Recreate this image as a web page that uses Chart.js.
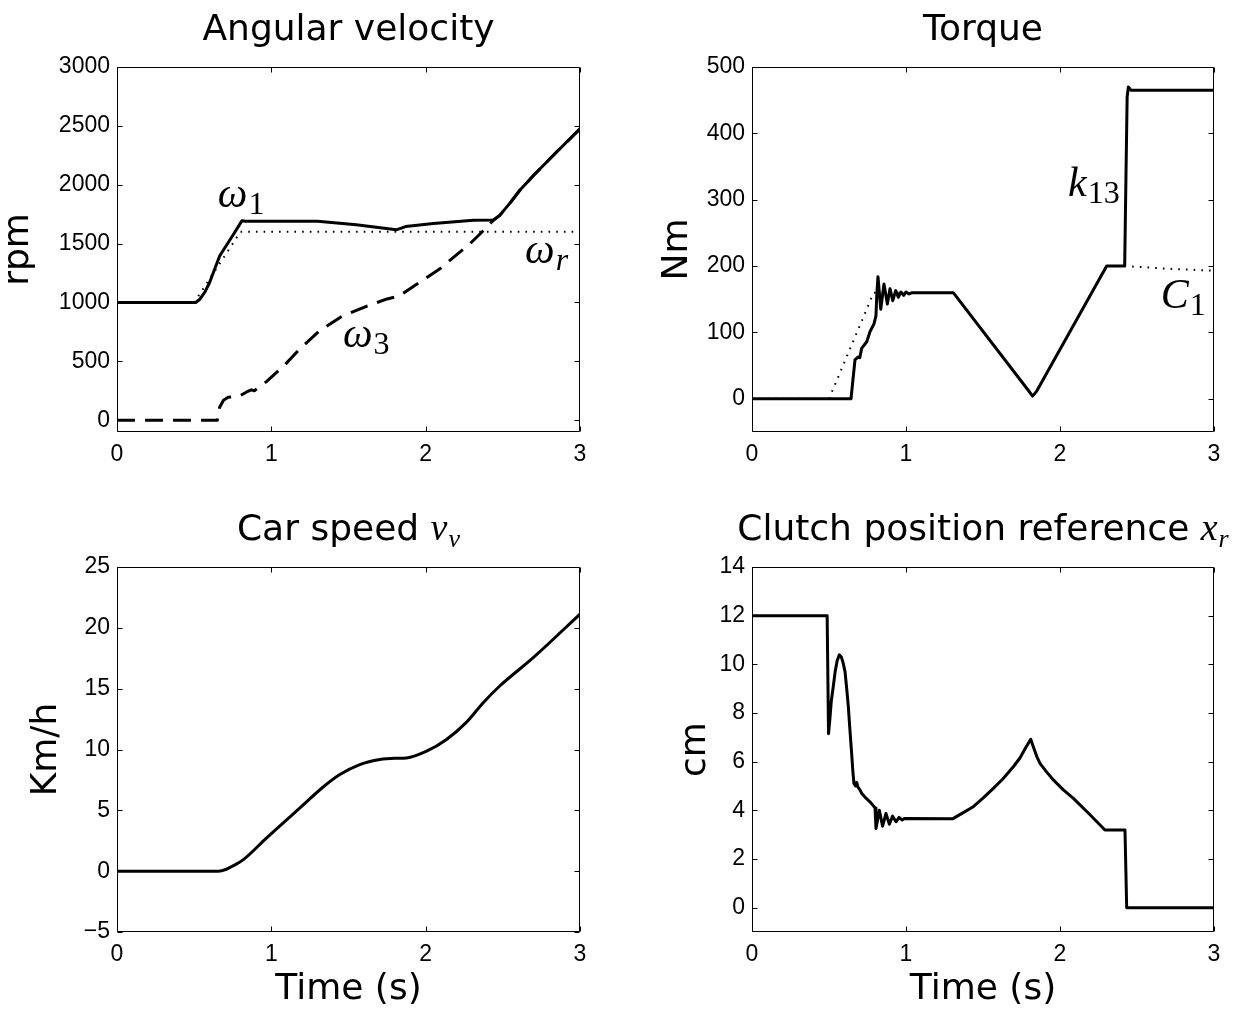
<!DOCTYPE html>
<html>
<head>
<meta charset="utf-8">
<script src="https://cdn.jsdelivr.net/npm/chart.js@4.4.1/dist/chart.umd.min.js"></script>
<style>
  html, body { margin: 0; padding: 0; background: #fff; }
  #wrap { position: relative; width: 1244px; height: 1020px; overflow: hidden; }
  canvas { position: absolute; }
</style>
</head>
<body>
<div id="wrap">
  <canvas id="cAng" width="622" height="500" style="left:0;top:0"></canvas>
  <canvas id="cTorque" width="622" height="500" style="left:622px;top:0"></canvas>
  <canvas id="cSpeed" width="622" height="520" style="left:0;top:500px"></canvas>
  <canvas id="cClutch" width="622" height="520" style="left:622px;top:500px"></canvas>
</div>
<script>
// ---- Angular velocity (rpm) ----
const angTimeW1 = [0, 0.51, 0.535, 0.57, 0.60, 0.635, 0.665, 0.70, 0.75, 0.81, 0.83, 1.0, 1.30, 1.55, 1.81, 1.87, 2.05, 2.31, 2.44, 2.48, 2.55, 2.61, 2.70, 2.85, 3.0];
const angW1 = [1000, 1000, 1025, 1090, 1170, 1290, 1395, 1467, 1569, 1695, 1690, 1690, 1690, 1660, 1617, 1645, 1670, 1698, 1700, 1740, 1850, 1953, 2080, 2280, 2475];
const angTimeWr = [0, 0.5, 0.8, 3.0];
const angWr = [1000, 1000, 1600, 1600];
const angTimeW3 = [0, 0.65, 0.665, 0.69, 0.72, 0.76, 0.80, 0.84, 0.87, 0.89, 0.93, 0.97, 1.08, 1.18, 1.31, 1.46, 1.62, 1.75, 1.83, 1.96, 2.09, 2.18, 2.28, 2.37, 2.44, 2.48, 2.55, 2.61, 2.70, 2.85, 3.0];
const angW3 = [0, 0, 110, 170, 195, 200, 210, 240, 258, 250, 290, 330, 460, 600, 757, 885, 970, 1030, 1056, 1170, 1284, 1383, 1490, 1605, 1700, 1740, 1850, 1953, 2080, 2280, 2475];
const angTicks = [0, 500, 1000, 1500, 2000, 2500, 3000];

// ---- Torque (Nm) ----
const torqTimeK = [0, 0.643, 0.656, 0.669, 0.69, 0.70, 0.712, 0.745, 0.766, 0.792, 0.805, 0.81, 0.818, 0.836, 0.857, 0.879, 0.896, 0.914, 0.933, 0.95, 0.967, 0.985, 1.0, 1.02, 1.04, 1.307, 1.79, 1.822, 1.85, 2.303, 2.42, 2.428, 2.436, 2.444, 2.46, 3.0];
const torqK = [0, 0, 30, 59, 63, 62, 76, 86, 101, 113, 125, 155, 184, 135, 173, 143, 166, 148, 163, 153, 161, 156, 161, 158, 160, 160, 14, 4, 12, 200, 200, 330, 455, 470, 465, 465];
const torqTimeC = [0, 0.5, 0.79, 1.307, 1.79, 1.822, 1.85, 2.303, 2.42, 2.7, 3.0];
const torqC = [0, 0, 160, 160, 14, 4, 12, 200, 200, 196, 193];
const torqTicks = [0, 100, 200, 300, 400, 500];

// ---- Car speed (Km/h) ----
const speedTime = [0, 0.655, 0.709, 0.752, 0.817, 0.968, 1.184, 1.336, 1.444, 1.573, 1.703, 1.80, 1.876, 2.006, 2.135, 2.265, 2.373, 2.48, 2.697, 3.0];
const speedVal = [0, 0, 0.16, 0.44, 0.93, 2.72, 5.19, 6.92, 7.94, 8.76, 9.18, 9.28, 9.31, 9.86, 10.82, 12.25, 13.85, 15.22, 17.55, 21.13];
const speedTicks = [-5, 0, 5, 10, 15, 20, 25];

// ---- Clutch position reference (cm) ----
const clutchTime = [0, 0.488, 0.497, 0.505, 0.515, 0.528, 0.54, 0.553, 0.567, 0.58, 0.59, 0.604, 0.615, 0.625, 0.636, 0.647, 0.655, 0.662, 0.672, 0.68, 0.688, 0.70, 0.712, 0.74, 0.766, 0.799, 0.805, 0.827, 0.848, 0.87, 0.892, 0.913, 0.935, 0.955, 0.975, 0.99, 1.303, 1.33, 1.437, 1.5, 1.567, 1.63, 1.697, 1.74, 1.775, 1.81, 1.83, 1.85, 1.87, 1.91, 1.957, 2.02, 2.087, 2.19, 2.292, 2.422, 2.433, 3.0];
const clutchVal = [12, 12, 7.15, 7.7, 8.5, 9.1, 9.7, 10.15, 10.39, 10.3, 10.1, 9.7, 9.0, 8.3, 7.3, 6.34, 5.6, 5.1, 5.0, 5.15, 4.95, 4.85, 4.7, 4.5, 4.35, 4.1, 3.25, 4.0, 3.35, 3.87, 3.43, 3.76, 3.53, 3.71, 3.6, 3.66, 3.65, 3.75, 4.15, 4.5, 4.9, 5.3, 5.79, 6.15, 6.55, 6.92, 6.55, 6.2, 5.93, 5.6, 5.25, 4.85, 4.49, 3.85, 3.19, 3.19, 0, 0];
const clutchTicks = [0, 2, 4, 6, 8, 10, 12, 14];

// ---- shared time axis ----
const timeTicks = [0, 1, 2, 3];

const SANS = '"DejaVu Sans", sans-serif';
const TICK_FAMILY = '"Liberation Sans", Arial, sans-serif';
const MATH = '"Liberation Serif", "DejaVu Serif", serif';
const LABEL_SIZE = 36;

const TITLE_FONT = `${LABEL_SIZE}px ${SANS}`;
const MATH_BIG = `italic 42px ${MATH}`;
const SUB_NUM = `32px ${MATH}`;
const SUB_IT = `italic 32px ${MATH}`;

function pts(ts, vs) { return ts.map((t, i) => ({ x: t, y: vs[i] })); }

function fmtTick(v) { return v < 0 ? '\u2212' + Math.abs(v) : String(v); }

function fixedTicks(values) {
  return function (scale) { scale.ticks = values.map(v => ({ value: v })); };
}

// Box around the plot area with inward tick marks on all four sides
const framePlugin = {
  id: 'frameBox',
  afterDatasetsDraw(chart) {
    const { ctx, chartArea: a, scales: { x, y } } = chart;
    const L = Math.round(a.left) + 0.5, R = Math.round(a.right) - 0.5;
    const T = Math.round(a.top) + 0.5, B = Math.round(a.bottom) - 0.5;
    const len = 5;
    ctx.save();
    ctx.strokeStyle = '#000';
    ctx.lineWidth = 1;
    ctx.beginPath();
    ctx.rect(L, T, R - L, B - T);
    x.ticks.forEach(tk => {
      const px = Math.round(x.getPixelForValue(tk.value)) + 0.5;
      ctx.moveTo(px, B); ctx.lineTo(px, B - len);
      ctx.moveTo(px, T); ctx.lineTo(px, T + len);
    });
    y.ticks.forEach(tk => {
      const py = Math.round(y.getPixelForValue(tk.value)) + 0.5;
      ctx.moveTo(L, py); ctx.lineTo(L + len, py);
      ctx.moveTo(R, py); ctx.lineTo(R - len, py);
    });
    ctx.stroke();
    ctx.restore();
  }
};

// Draws a run of text pieces with their own fonts and baseline shifts
function drawRich(ctx, x, y, parts, align) {
  let w = 0;
  parts.forEach(p => { ctx.font = p.font; p.w = ctx.measureText(p.text).width; w += p.w + (p.gap || 0); });
  let cx = align === 'center' ? x - w / 2 : x;
  parts.forEach(p => {
    ctx.font = p.font;
    ctx.fillText(p.text, cx + (p.gap || 0), y + (p.dy || 0));
    cx += p.w + (p.gap || 0);
  });
}

// Title above the plot and math labels placed in data units
function textPlugin(title, notes) {
  return {
    id: 'richText',
    afterDraw(chart) {
      const { ctx, chartArea: a, scales: { x, y } } = chart;
      ctx.save();
      ctx.fillStyle = '#000';
      ctx.textAlign = 'left';
      ctx.textBaseline = 'alphabetic';
      drawRich(ctx, (a.left + a.right) / 2, a.top - 27, title, 'center');
      notes.forEach(n => drawRich(ctx, x.getPixelForValue(n.t), y.getPixelForValue(n.v), n.parts, 'left'));
      ctx.restore();
    }
  };
}

const lineBase = { borderColor: '#000', pointRadius: 0, tension: 0, fill: false, borderJoinStyle: 'round', borderCapStyle: 'butt' };
function solid(data) { return Object.assign({ data, borderWidth: 3 }, lineBase); }
function dotted(data) { return Object.assign({ data, borderWidth: 2, borderDash: [1.6, 6.1] }, lineBase); }
function dashed(data) { return Object.assign({ data, borderWidth: 3, borderDash: [18, 10] }, lineBase); }

function makeChart(id, o) {
  const tickFont = { family: TICK_FAMILY, size: 23, lineHeight: 1.2 };
  const labelFont = { family: SANS, size: LABEL_SIZE, lineHeight: 1 };
  return new Chart(document.getElementById(id), {
    type: 'line',
    data: { datasets: o.datasets },
    options: {
      responsive: false,
      animation: false,
      devicePixelRatio: 1,
      events: [],
      layout: { padding: { left: 0, right: o.padRight, top: 67, bottom: 0 } },
      plugins: { legend: { display: false }, tooltip: { enabled: false }, title: { display: false } },
      scales: {
        x: {
          type: 'linear',
          min: 0, max: 3,
          afterBuildTicks: fixedTicks(timeTicks),
          afterFit(s) { s.height = o.xHeight; },
          grid: { display: false, drawTicks: false },
          border: { display: false },
          ticks: { padding: 9, font: tickFont, color: '#000', callback: fmtTick, maxRotation: 0, autoSkip: false },
          title: o.xTitle
            ? { display: true, text: o.xTitle, font: labelFont, color: '#000', padding: { top: 0, bottom: 12 } }
            : { display: false }
        },
        y: {
          type: 'linear',
          min: o.yMin, max: o.yMax,
          afterBuildTicks: fixedTicks(o.yTicks),
          afterFit(s) { s.width = o.yWidth; },
          grid: { display: false, drawTicks: false },
          border: { display: false },
          ticks: { padding: 7, font: tickFont, color: '#000', callback: fmtTick, autoSkip: false },
          title: { display: true, text: o.yTitle, font: labelFont, color: '#000', padding: { top: o.yTitlePad, bottom: 0 } }
        }
      }
    },
    plugins: [framePlugin, textPlugin(o.title, o.notes || [])]
  });
}

makeChart('cAng', {
  datasets: [dotted(pts(angTimeWr, angWr)), dashed(pts(angTimeW3, angW3)), solid(pts(angTimeW1, angW1))],
  yMin: -100, yMax: 3000, yTicks: angTicks, yWidth: 117, padRight: 42, xHeight: 68,
  yTitle: 'rpm', yTitlePad: 1,
  title: [{ text: 'Angular velocity', font: TITLE_FONT }],
  notes: [
    { t: 0.653, v: 1815, parts: [{ text: '\u03C9', font: MATH_BIG }, { text: '1', font: SUB_NUM, dy: 7, gap: 1 }] },
    { t: 2.644, v: 1339, parts: [{ text: '\u03C9', font: MATH_BIG }, { text: 'r', font: SUB_IT, dy: 7, gap: 1 }] },
    { t: 1.464, v: 624, parts: [{ text: '\u03C9', font: MATH_BIG }, { text: '3', font: SUB_NUM, dy: 7, gap: 1 }] }
  ]
});

makeChart('cTorque', {
  datasets: [dotted(pts(torqTimeC, torqC)), solid(pts(torqTimeK, torqK))],
  yMin: -50, yMax: 500, yTicks: torqTicks, yWidth: 130, padRight: 30, xHeight: 68,
  yTitle: 'Nm', yTitlePad: 38,
  title: [{ text: 'Torque', font: TITLE_FONT }],
  notes: [
    { t: 2.052, v: 305, parts: [{ text: 'k', font: MATH_BIG }, { text: '13', font: SUB_NUM, dy: 7, gap: 1 }] },
    { t: 2.654, v: 137, parts: [{ text: 'C', font: MATH_BIG }, { text: '1', font: SUB_NUM, dy: 7, gap: 1 }] }
  ]
});

makeChart('cSpeed', {
  datasets: [Object.assign(solid(pts(speedTime, speedVal)), { cubicInterpolationMode: 'monotone' })],
  yMin: -5, yMax: 25, yTicks: speedTicks, yWidth: 117, padRight: 42, xHeight: 88,
  yTitle: 'Km/h', yTitlePad: 29, xTitle: 'Time (s)',
  title: [
    { text: 'Car speed ', font: TITLE_FONT },
    { text: 'v', font: `italic 38px ${MATH}` },
    { text: 'v', font: `italic 26px ${MATH}`, dy: 7, gap: 1 }
  ]
});

makeChart('cClutch', {
  datasets: [solid(pts(clutchTime, clutchVal))],
  yMin: -1, yMax: 14, yTicks: clutchTicks, yWidth: 130, padRight: 30, xHeight: 88,
  yTitle: 'cm', yTitlePad: 56, xTitle: 'Time (s)',
  title: [
    { text: 'Clutch position reference ', font: TITLE_FONT },
    { text: 'x', font: `italic 38px ${MATH}` },
    { text: 'r', font: `italic 26px ${MATH}`, dy: 7, gap: 1 }
  ]
});
</script>
</body>
</html>
